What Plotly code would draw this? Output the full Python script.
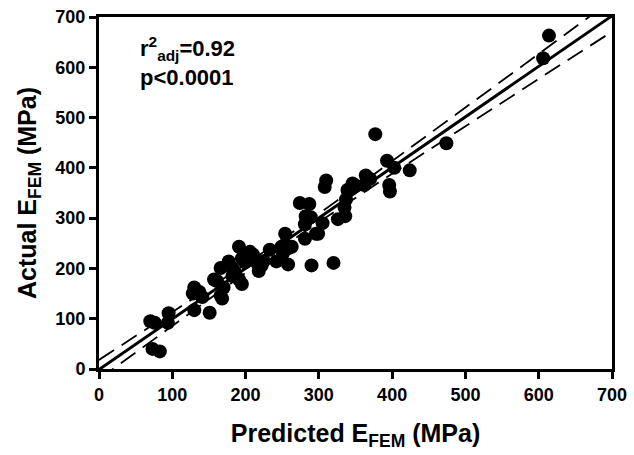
import numpy as np
import plotly.graph_objects as go

# Predicted vs actual E_FEM (MPa)
predicted = [70, 76, 73, 83, 95, 94, 128, 130, 137, 141, 130, 151, 157, 161, 166, 168,
             166, 170, 177, 182, 182, 186, 191, 191, 195, 195, 199, 206, 209, 210, 218,
             222, 225, 233, 242, 249, 251, 254, 258, 258, 260, 263, 274, 281, 281, 282,
             287, 289, 290, 296, 299, 305, 308, 310, 320, 326, 335, 336, 337, 339, 346,
             350, 362, 364, 370, 377, 393, 396, 397, 403, 424, 474, 606, 614]
actual = [95, 92, 40, 35, 111, 92, 150, 162, 153, 143, 117, 112, 178, 175, 146, 140,
          201, 162, 214, 201, 185, 191, 178, 243, 169, 220, 212, 233, 217, 228, 195,
          206, 215, 237, 214, 243, 230, 269, 208, 240, 243, 243, 330, 259, 288, 304,
          328, 302, 206, 269, 269, 290, 362, 375, 211, 298, 321, 304, 337, 356, 369,
          365, 366, 385, 378, 467, 414, 366, 353, 400, 395, 449, 618, 663]
tick_vals = [0, 100, 200, 300, 400, 500, 600, 700]
tick_text = ["<b>%d</b>" % v for v in tick_vals]
stats_lines = ["r<sup>2</sup><sub>adj</sub>=0.92", "p<0.0001"]

# Regression line and 95% confidence band computed from the data
xa = np.array(predicted, float)
ya = np.array(actual, float)
n = len(xa)
slope, intercept = np.polyfit(xa, ya, 1)
resid = ya - (slope * xa + intercept)
s = np.sqrt(np.sum(resid ** 2) / (n - 2))
sxx = np.sum((xa - xa.mean()) ** 2)
tcrit = 1.99
xf = np.linspace(0, 700, 141)
yf = slope * xf + intercept
hw = tcrit * s * np.sqrt(1 / n + (xf - xa.mean()) ** 2 / sxx)

FONT = "Arial, 'Liberation Sans', sans-serif"
fig = go.Figure()
fig.add_trace(go.Scatter(x=xf, y=yf + hw, mode="lines",
                         line=dict(color="black", width=1.8, dash="18px,9px")))
fig.add_trace(go.Scatter(x=xf, y=yf - hw, mode="lines",
                         line=dict(color="black", width=1.8, dash="18px,9px")))
fig.add_trace(go.Scatter(x=xf, y=yf, mode="lines", line=dict(color="black", width=3)))
fig.add_trace(go.Scatter(x=predicted, y=actual, mode="markers",
                         marker=dict(color="black", size=14, line=dict(width=0))))

ann_font = dict(family=FONT, size=22, color="black", weight="bold")
fig.add_annotation(x=53, y=638, xref="x", yref="y", text=stats_lines[0], showarrow=False,
                   xanchor="left", yanchor="middle", font=ann_font)
fig.add_annotation(x=53, y=580, xref="x", yref="y", text=stats_lines[1], showarrow=False,
                   xanchor="left", yanchor="middle", font=ann_font)

axis_common = dict(range=[0, 700], tickvals=tick_vals, ticktext=tick_text,
                   showgrid=False, zeroline=False,
                   showline=True, linecolor="black", linewidth=3, mirror=True,
                   ticks="outside", ticklen=7, tickwidth=3, tickcolor="black",
                   tickfont=dict(family=FONT, size=18, color="black", weight="bold"))
fig.update_xaxes(**axis_common,
                 title=dict(text="Predicted E<sub>FEM</sub> (MPa)",
                            font=dict(family=FONT, size=25, color="black", weight="bold"),
                            standoff=21))
fig.update_yaxes(**axis_common,
                 title=dict(text="Actual E<sub>FEM</sub> (MPa)",
                            font=dict(family=FONT, size=25, color="black", weight="bold"),
                            standoff=12))
fig.update_layout(width=634, height=455, showlegend=False,
                  margin=dict(l=99, r=17, t=7, b=86),
                  plot_bgcolor="white", paper_bgcolor="white",
                  font=dict(family=FONT, color="black", size=18))
# remove the browser's default 8px page margin so the figure fills the window exactly
fig.write_html("out.html", config={"displayModeBar": False},
               post_script="document.body.style.margin='0';")
